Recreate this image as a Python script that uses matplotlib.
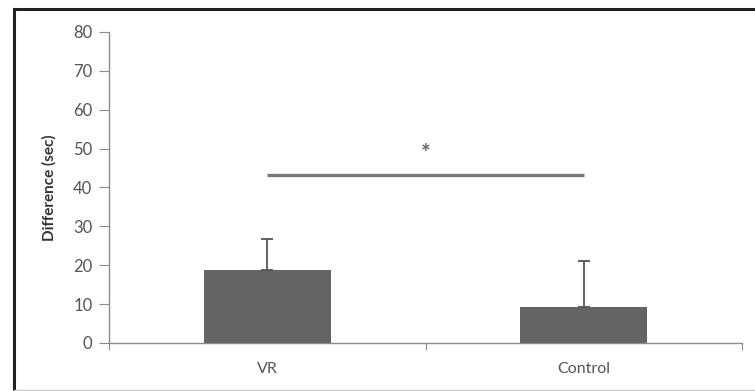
import matplotlib.pyplot as plt
from matplotlib.lines import Line2D

plt.rcParams['font.family'] = ['Lato', 'DejaVu Sans']

# group means and upper error (SD) in seconds
groups = ["VR", "Control"]
means = [18.8, 9.2]
errors = [7.9, 11.9]
sig_level = 43.2
sig_mark = "*"

yticks = [0, 10, 20, 30, 40, 50, 60, 70, 80]

bar_color = "#646464"
axis_color = "#8c8c8c"
text_color = "#555555"

fig = plt.figure(figsize=(7.55, 3.91), dpi=100)
ax = fig.add_axes([0.1444, 0.1228, 0.8384, 0.7954])

x = [0.5, 1.5]
ax.bar(x, means, width=0.4, color=bar_color, zorder=2)
ax.errorbar(x, means, yerr=[[0, 0], errors], fmt="none", ecolor="#555555",
            elinewidth=1.3, capsize=4, capthick=1.3, zorder=3)

# significance bar between the two groups
ax.plot([x[0], x[1]], [sig_level, sig_level], color="#777777", lw=2.4,
        solid_capstyle="butt")
ax.text(1.0, sig_level + 5.5, sig_mark, ha="center", va="center",
        fontsize=16, color="#666666", fontweight="bold")

ax.set_xlim(0, 2)
ax.set_ylim(0, 80)
ax.set_yticks(yticks)
ax.set_xticks([0, 1, 2])
ax.set_xticklabels([])
ax.set_xticks(x, minor=True)
ax.set_xticklabels(groups, minor=True)
ax.tick_params(axis="x", which="minor", length=0, pad=14,
               labelsize=11.5, labelcolor=text_color)
ax.tick_params(axis="x", which="major", length=5, direction="out",
               color=axis_color)
ax.tick_params(axis="y", length=7, direction="out", color=axis_color,
               labelsize=12, labelcolor=text_color, pad=5)

for side in ["top", "right"]:
    ax.spines[side].set_visible(False)
for side in ["left", "bottom"]:
    ax.spines[side].set_color(axis_color)
    ax.spines[side].set_linewidth(1.0)

ax.set_ylabel("Difference (sec)", fontsize=11, fontweight="bold",
              color="#333333", labelpad=12)

# outer frame around the chart area
fig.add_artist(Line2D([14 / 755, 14 / 755], [0, 1 - 9 / 391],
                      transform=fig.transFigure, color="#222222", lw=2.2))
fig.add_artist(Line2D([14 / 755, 1], [1 - 9 / 391, 1 - 9 / 391],
                      transform=fig.transFigure, color="#222222", lw=2.2))
fig.add_artist(Line2D([14 / 755, 1], [1 / 391, 1 / 391],
                      transform=fig.transFigure, color="#cccccc", lw=1))

fig.savefig("out.png", dpi=100)
